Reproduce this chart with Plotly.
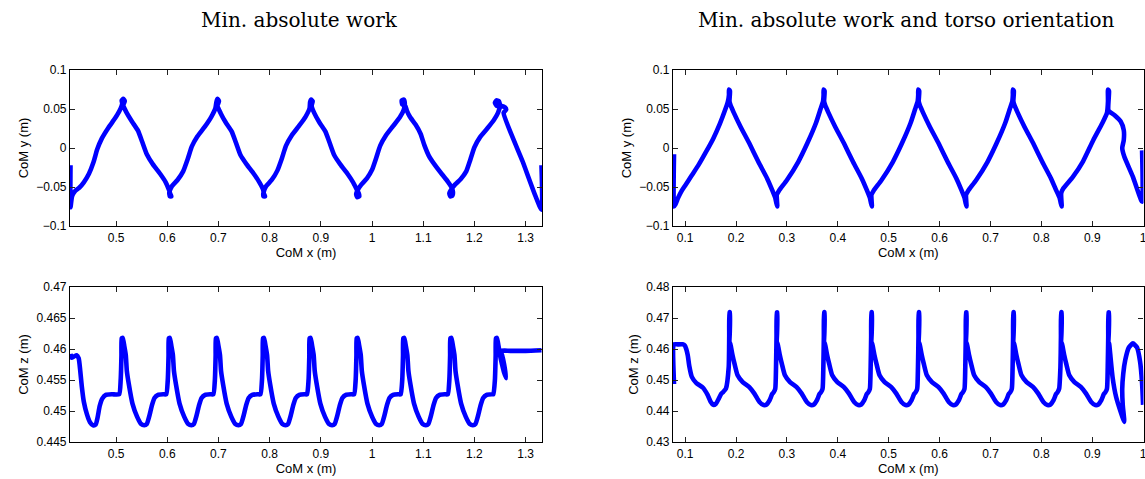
import plotly.graph_objects as go

# ---------------------------------------------------------------- data
# CoM lateral position (y) against forward position (x), min. absolute work
left_xy = [
    (0.411, -0.022), (0.411, -0.076), (0.414, -0.062), (0.420, -0.055), (0.428, -0.051),
    (0.437, -0.044), (0.447, -0.033), (0.456, -0.018), (0.463, -0.002), (0.472, 0.012),
    (0.485, 0.026), (0.498, 0.038), (0.507, 0.048), (0.512, 0.057),
    (0.511, 0.061), (0.514, 0.063), (0.517, 0.060), (0.514, 0.055),
    (0.520, 0.046), (0.531, 0.034), (0.543, 0.022), (0.551, 0.008), (0.560, -0.008),
    (0.572, -0.021), (0.586, -0.033), (0.597, -0.044), (0.603, -0.053),
    (0.606, -0.059), (0.608, -0.062), (0.605, -0.062), (0.604, -0.057),
    (0.609, -0.049), (0.620, -0.041), (0.631, -0.030), (0.640, -0.014), (0.648, 0.002),
    (0.659, 0.015), (0.673, 0.027), (0.686, 0.040), (0.694, 0.051),
    (0.696, 0.059), (0.698, 0.063), (0.701, 0.060), (0.698, 0.054),
    (0.704, 0.045), (0.714, 0.033), (0.726, 0.021), (0.734, 0.007), (0.743, -0.009),
    (0.755, -0.021), (0.769, -0.033), (0.780, -0.044), (0.787, -0.053),
    (0.789, -0.059), (0.791, -0.062), (0.788, -0.062), (0.788, -0.057),
    (0.793, -0.049), (0.804, -0.041), (0.815, -0.029), (0.824, -0.013), (0.832, 0.003),
    (0.843, 0.016), (0.857, 0.028), (0.870, 0.040), (0.878, 0.051),
    (0.879, 0.059), (0.881, 0.062), (0.884, 0.060), (0.882, 0.054),
    (0.887, 0.045), (0.897, 0.033), (0.909, 0.021), (0.917, 0.007), (0.926, -0.009),
    (0.938, -0.021), (0.952, -0.033), (0.963, -0.044), (0.970, -0.053),
    (0.974, -0.058), (0.975, -0.062), (0.971, -0.063), (0.969, -0.059), (0.972, -0.054),
    (0.979, -0.047), (0.990, -0.039), (1.000, -0.028), (1.008, -0.013), (1.016, 0.003),
    (1.027, 0.016), (1.041, 0.028), (1.054, 0.039), (1.062, 0.049),
    (1.064, 0.057), (1.062, 0.062), (1.058, 0.061), (1.059, 0.056), (1.065, 0.054), (1.068, 0.048),
    (1.074, 0.040), (1.085, 0.030), (1.095, 0.018), (1.102, 0.004), (1.111, -0.010),
    (1.123, -0.022), (1.137, -0.034), (1.148, -0.043), (1.155, -0.050),
    (1.158, -0.056), (1.157, -0.061), (1.153, -0.062), (1.151, -0.058), (1.155, -0.053),
    (1.162, -0.047), (1.173, -0.040), (1.184, -0.030), (1.192, -0.015), (1.200, 0.001),
    (1.211, 0.014), (1.225, 0.025), (1.238, 0.036), (1.246, 0.045),
    (1.250, 0.054), (1.248, 0.060), (1.243, 0.061), (1.240, 0.058), (1.244, 0.054),
    (1.252, 0.054), (1.260, 0.052), (1.262, 0.049), (1.257, 0.045),
    (1.294, -0.017), (1.331, -0.079), (1.331, -0.022),
]

# CoM lateral position, min. absolute work and torso orientation
right_xy = [
    (0.078, -0.008), (0.078, -0.075), (0.081, -0.072), (0.086, -0.064), (0.093, -0.055),
    (0.100, -0.048), (0.112, -0.036), (0.126, -0.022), (0.140, -0.006), (0.155, 0.012),
    (0.168, 0.031), (0.178, 0.048), (0.184, 0.060),
    (0.186, 0.068), (0.186, 0.075), (0.188, 0.073), (0.187, 0.060),
    (0.189, 0.055), (0.195, 0.046), (0.209, 0.027), (0.226, 0.006), (0.244, -0.018),
    (0.261, -0.039), (0.271, -0.054), (0.277, -0.064),
    (0.279, -0.070), (0.281, -0.075), (0.280, -0.060),
    (0.284, -0.055), (0.300, -0.041), (0.322, -0.018), (0.340, 0.006), (0.357, 0.032),
    (0.366, 0.050), (0.371, 0.060),
    (0.372, 0.068), (0.372, 0.075), (0.374, 0.073), (0.373, 0.060),
    (0.375, 0.055), (0.381, 0.046), (0.395, 0.027), (0.412, 0.006), (0.430, -0.018),
    (0.447, -0.039), (0.457, -0.054), (0.463, -0.064),
    (0.465, -0.070), (0.467, -0.075), (0.466, -0.060),
    (0.470, -0.055), (0.486, -0.041), (0.508, -0.018), (0.526, 0.006), (0.543, 0.032),
    (0.552, 0.050), (0.557, 0.060),
    (0.558, 0.068), (0.558, 0.075), (0.560, 0.073), (0.559, 0.060),
    (0.561, 0.055), (0.567, 0.046), (0.581, 0.027), (0.598, 0.006), (0.616, -0.018),
    (0.633, -0.039), (0.643, -0.054), (0.649, -0.064),
    (0.651, -0.070), (0.653, -0.075), (0.652, -0.060),
    (0.656, -0.055), (0.672, -0.041), (0.694, -0.018), (0.712, 0.006), (0.729, 0.032),
    (0.738, 0.050), (0.743, 0.060),
    (0.744, 0.068), (0.744, 0.075), (0.746, 0.073), (0.745, 0.060),
    (0.747, 0.055), (0.753, 0.046), (0.767, 0.027), (0.784, 0.006), (0.802, -0.018),
    (0.819, -0.039), (0.829, -0.054), (0.836, -0.064),
    (0.838, -0.070), (0.840, -0.075), (0.839, -0.058),
    (0.843, -0.052), (0.862, -0.037), (0.882, -0.017), (0.902, 0.010), (0.920, 0.032),
    (0.929, 0.045),
    (0.931, 0.060), (0.931, 0.075), (0.933, 0.073), (0.932, 0.048),
    (0.944, 0.042), (0.956, 0.034), (0.962, 0.023), (0.962, 0.010), (0.959, 0.000),
    (0.963, -0.011), (0.980, -0.037), (0.998, -0.069), (0.998, -0.003),
]

# CoM height (z), min. absolute work
left_xz = [
    (0.411, 0.4592), (0.413, 0.4586), (0.418, 0.4588), (0.423, 0.4590), (0.427, 0.4585),
    (0.430, 0.4565), (0.433, 0.4540), (0.437, 0.4515), (0.443, 0.4495), (0.449, 0.4482),
    (0.455, 0.4477), (0.460, 0.4478), (0.464, 0.4490), (0.468, 0.4508), (0.473, 0.4520),
    (0.480, 0.4526), (0.492, 0.4527),
    (0.506, 0.4527), (0.509, 0.4550), (0.5105, 0.4590), (0.511, 0.4617), (0.513, 0.4618),
    (0.516, 0.4605), (0.519, 0.4590), (0.521, 0.4565), (0.525, 0.4543), (0.532, 0.4512),
    (0.541, 0.4491), (0.549, 0.4479), (0.555, 0.4477), (0.560, 0.4479), (0.565, 0.4492),
    (0.570, 0.4509), (0.575, 0.4521), (0.582, 0.4526), (0.592, 0.4527),
    (0.598, 0.4527), (0.601, 0.4550), (0.6025, 0.4590), (0.603, 0.4617), (0.605, 0.4618),
    (0.608, 0.4605), (0.611, 0.4590), (0.613, 0.4565), (0.617, 0.4543), (0.624, 0.4512),
    (0.633, 0.4491), (0.641, 0.4479), (0.647, 0.4477), (0.652, 0.4479), (0.657, 0.4492),
    (0.662, 0.4509), (0.667, 0.4521), (0.674, 0.4526), (0.684, 0.4527),
    (0.690, 0.4527), (0.693, 0.4550), (0.6945, 0.4590), (0.695, 0.4617), (0.697, 0.4618),
    (0.700, 0.4605), (0.703, 0.4590), (0.705, 0.4565), (0.709, 0.4543), (0.716, 0.4512),
    (0.725, 0.4491), (0.733, 0.4479), (0.739, 0.4477), (0.744, 0.4479), (0.749, 0.4492),
    (0.754, 0.4509), (0.759, 0.4521), (0.766, 0.4526), (0.776, 0.4527),
    (0.782, 0.4527), (0.785, 0.4550), (0.7865, 0.4590), (0.787, 0.4617), (0.789, 0.4618),
    (0.792, 0.4605), (0.795, 0.4590), (0.797, 0.4565), (0.801, 0.4543), (0.808, 0.4512),
    (0.817, 0.4491), (0.825, 0.4479), (0.831, 0.4477), (0.836, 0.4479), (0.841, 0.4492),
    (0.846, 0.4509), (0.851, 0.4521), (0.858, 0.4526), (0.868, 0.4527),
    (0.873, 0.4527), (0.876, 0.4550), (0.8775, 0.4590), (0.878, 0.4617), (0.880, 0.4618),
    (0.883, 0.4605), (0.886, 0.4590), (0.888, 0.4565), (0.892, 0.4543), (0.899, 0.4512),
    (0.908, 0.4491), (0.916, 0.4479), (0.922, 0.4477), (0.927, 0.4479), (0.932, 0.4492),
    (0.937, 0.4509), (0.942, 0.4521), (0.949, 0.4526), (0.959, 0.4527),
    (0.965, 0.4527), (0.968, 0.4550), (0.9695, 0.4590), (0.970, 0.4617), (0.972, 0.4618),
    (0.975, 0.4605), (0.978, 0.4590), (0.980, 0.4565), (0.984, 0.4543), (0.991, 0.4512),
    (1.000, 0.4491), (1.008, 0.4479), (1.014, 0.4477), (1.019, 0.4479), (1.024, 0.4492),
    (1.029, 0.4509), (1.034, 0.4521), (1.041, 0.4526), (1.051, 0.4527),
    (1.056, 0.4527), (1.059, 0.4550), (1.0605, 0.4590), (1.061, 0.4617), (1.063, 0.4618),
    (1.066, 0.4605), (1.069, 0.4590), (1.071, 0.4565), (1.075, 0.4543), (1.082, 0.4512),
    (1.091, 0.4491), (1.099, 0.4479), (1.105, 0.4477), (1.110, 0.4479), (1.115, 0.4492),
    (1.120, 0.4509), (1.125, 0.4521), (1.132, 0.4526), (1.142, 0.4527),
    (1.148, 0.4527), (1.151, 0.4550), (1.1525, 0.4590), (1.153, 0.4617), (1.155, 0.4618),
    (1.158, 0.4605), (1.161, 0.4590), (1.163, 0.4565), (1.167, 0.4543), (1.174, 0.4512),
    (1.183, 0.4491), (1.191, 0.4479), (1.197, 0.4477), (1.202, 0.4479), (1.207, 0.4492),
    (1.212, 0.4509), (1.217, 0.4521), (1.224, 0.4526), (1.234, 0.4527),
    (1.237, 0.4527), (1.240, 0.4550), (1.2415, 0.4590), (1.242, 0.4617), (1.244, 0.4618),
    (1.247, 0.4605), (1.250, 0.4590), (1.254, 0.4575), (1.258, 0.4562), (1.262, 0.4553),
    (1.258, 0.4575), (1.254, 0.4590), (1.251, 0.4597),
    (1.270, 0.4597), (1.300, 0.4597), (1.331, 0.4598),
]

# CoM height, min. absolute work and torso orientation
right_xz = [
    (0.078, 0.4487), (0.078, 0.4615), (0.085, 0.4615), (0.095, 0.4615), (0.099, 0.4612),
    (0.102, 0.4600), (0.105, 0.4580), (0.108, 0.4545), (0.113, 0.4510), (0.122, 0.4490),
    (0.135, 0.4475), (0.144, 0.4452), (0.150, 0.4430), (0.155, 0.4420), (0.160, 0.4423),
    (0.166, 0.4440), (0.171, 0.4456), (0.175, 0.4462), (0.180, 0.4472),
    (0.1855, 0.4541), (0.1865, 0.4640), (0.187, 0.4718), (0.188, 0.4718), (0.1875, 0.4650),
    (0.1865, 0.4612), (0.188, 0.4622), (0.190, 0.4606), (0.193, 0.4580), (0.197, 0.4552),
    (0.203, 0.4515), (0.213, 0.4493), (0.226, 0.4477), (0.236, 0.4456), (0.246, 0.4429),
    (0.254, 0.4419), (0.260, 0.4421), (0.266, 0.4435), (0.271, 0.4455), (0.274, 0.4461),
    (0.277, 0.4472),
    (0.2785, 0.4541), (0.2795, 0.4640), (0.280, 0.4718), (0.281, 0.4718), (0.2805, 0.4650),
    (0.2795, 0.4612), (0.281, 0.4622), (0.283, 0.4606), (0.286, 0.4580), (0.290, 0.4552),
    (0.296, 0.4515), (0.306, 0.4493), (0.319, 0.4477), (0.329, 0.4456), (0.339, 0.4429),
    (0.347, 0.4419), (0.353, 0.4421), (0.359, 0.4435), (0.364, 0.4455), (0.367, 0.4461),
    (0.370, 0.4472),
    (0.3715, 0.4541), (0.3725, 0.4640), (0.373, 0.4718), (0.374, 0.4718), (0.3735, 0.4650),
    (0.3725, 0.4612), (0.374, 0.4622), (0.376, 0.4606), (0.379, 0.4580), (0.383, 0.4552),
    (0.389, 0.4515), (0.399, 0.4493), (0.412, 0.4477), (0.422, 0.4456), (0.432, 0.4429),
    (0.440, 0.4419), (0.446, 0.4421), (0.452, 0.4435), (0.457, 0.4455), (0.460, 0.4461),
    (0.463, 0.4472),
    (0.4645, 0.4541), (0.4655, 0.4640), (0.466, 0.4718), (0.467, 0.4718), (0.4665, 0.4650),
    (0.4655, 0.4612), (0.467, 0.4622), (0.469, 0.4606), (0.472, 0.4580), (0.476, 0.4552),
    (0.482, 0.4515), (0.492, 0.4493), (0.505, 0.4477), (0.515, 0.4456), (0.525, 0.4429),
    (0.533, 0.4419), (0.539, 0.4421), (0.545, 0.4435), (0.550, 0.4455), (0.553, 0.4461),
    (0.556, 0.4472),
    (0.5575, 0.4541), (0.5585, 0.4640), (0.559, 0.4718), (0.560, 0.4718), (0.5595, 0.4650),
    (0.5585, 0.4612), (0.560, 0.4622), (0.562, 0.4606), (0.565, 0.4580), (0.569, 0.4552),
    (0.575, 0.4515), (0.585, 0.4493), (0.598, 0.4477), (0.608, 0.4456), (0.618, 0.4429),
    (0.626, 0.4419), (0.632, 0.4421), (0.638, 0.4435), (0.643, 0.4455), (0.646, 0.4461),
    (0.649, 0.4472),
    (0.6505, 0.4541), (0.6515, 0.4640), (0.652, 0.4718), (0.653, 0.4718), (0.6525, 0.4650),
    (0.6515, 0.4612), (0.653, 0.4622), (0.655, 0.4606), (0.658, 0.4580), (0.662, 0.4552),
    (0.668, 0.4515), (0.678, 0.4493), (0.691, 0.4477), (0.701, 0.4456), (0.711, 0.4429),
    (0.719, 0.4419), (0.725, 0.4421), (0.731, 0.4435), (0.736, 0.4455), (0.739, 0.4461),
    (0.742, 0.4472),
    (0.7435, 0.4541), (0.7445, 0.4640), (0.745, 0.4718), (0.746, 0.4718), (0.7455, 0.4650),
    (0.7445, 0.4612), (0.746, 0.4622), (0.748, 0.4606), (0.751, 0.4580), (0.755, 0.4552),
    (0.761, 0.4515), (0.771, 0.4493), (0.784, 0.4477), (0.794, 0.4456), (0.804, 0.4429),
    (0.812, 0.4419), (0.818, 0.4421), (0.824, 0.4435), (0.829, 0.4455), (0.832, 0.4461),
    (0.835, 0.4472),
    (0.8375, 0.4541), (0.8385, 0.4640), (0.839, 0.4718), (0.840, 0.4718), (0.8395, 0.4650),
    (0.8385, 0.4612), (0.840, 0.4622), (0.842, 0.4606), (0.845, 0.4580), (0.849, 0.4552),
    (0.855, 0.4515), (0.865, 0.4493), (0.878, 0.4477), (0.888, 0.4456), (0.898, 0.4429),
    (0.906, 0.4419), (0.912, 0.4421), (0.918, 0.4435), (0.923, 0.4455), (0.926, 0.4461),
    (0.929, 0.4472),
    (0.9305, 0.4541), (0.9315, 0.4640), (0.932, 0.4718), (0.933, 0.4718), (0.9325, 0.4650),
    (0.9315, 0.4612), (0.933, 0.4620), (0.935, 0.4590), (0.940, 0.4509), (0.947, 0.4445),
    (0.957, 0.4392), (0.963, 0.4365),
    (0.960, 0.4420), (0.959, 0.4470), (0.961, 0.4520), (0.965, 0.4565), (0.972, 0.4605),
    (0.980, 0.4618), (0.988, 0.4605), (0.994, 0.4560), (0.998, 0.4490), (1.000, 0.4420),
]

# axis ranges and tick labels
left_x_range = [0.41, 1.332]
right_x_range = [0.076, 1.0008]
left_x_ticks = [0.5, 0.6, 0.7, 0.8, 0.9, 1.0, 1.1, 1.2, 1.3]
left_x_text = ["0.5", "0.6", "0.7", "0.8", "0.9", "1", "1.1", "1.2", "1.3"]
right_x_ticks = [0.1, 0.2, 0.3, 0.4, 0.5, 0.6, 0.7, 0.8, 0.9, 1.0]
right_x_text = ["0.1", "0.2", "0.3", "0.4", "0.5", "0.6", "0.7", "0.8", "0.9", "1"]
y_ticks = [-0.1, -0.05, 0.0, 0.05, 0.1]
y_text = ["\u22120.1", "\u22120.05", "0", "0.05", "0.1"]
left_z_ticks = [0.445, 0.45, 0.455, 0.46, 0.465, 0.47]
left_z_text = ["0.445", "0.45", "0.455", "0.46", "0.465", "0.47"]
right_z_ticks = [0.43, 0.44, 0.45, 0.46, 0.47, 0.48]
right_z_text = ["0.43", "0.44", "0.45", "0.46", "0.47", "0.48"]
titles = ["Min. absolute work", "Min. absolute work and torso orientation"]

# ---------------------------------------------------------------- layout
W, H = 1145, 479


def px_x(p):
    return p / W


def px_y(p):
    return 1 - p / H


left_dom = [px_x(70), px_x(542)]
right_dom = [px_x(673), px_x(1143.5)]
top_dom = [px_y(226), px_y(70)]
bot_dom = [px_y(442), px_y(287)]

LINE = dict(color="#0000ff", width=4.6, shape="spline", smoothing=0.5)

fig = go.Figure()
panels = [
    (left_xy, "x", "y"),
    (right_xy, "x2", "y2"),
    (left_xz, "x3", "y3"),
    (right_xz, "x4", "y4"),
]
for pts, xa, ya in panels:
    fig.add_trace(go.Scatter(
        x=[p[0] for p in pts], y=[p[1] for p in pts],
        mode="lines", line=LINE, xaxis=xa, yaxis=ya,
        showlegend=False, hoverinfo="skip",
    ))

TICKFONT = dict(family="Liberation Sans, Arial, sans-serif", size=12, color="black")
TITLEFONT = dict(family="Liberation Sans, Arial, sans-serif", size=13, color="black")


def axis(dom, anchor, rng, vals, text, title):
    return dict(
        domain=dom, anchor=anchor, range=rng,
        tickmode="array", tickvals=vals, ticktext=text,
        ticks="inside", ticklen=5, tickwidth=1, tickcolor="#222",
        showline=True, linecolor="black", linewidth=1.2, mirror="ticks",
        showgrid=False, zeroline=False, tickfont=TICKFONT,
        ticklabeloverflow="allow",
        title=dict(text=title, font=TITLEFONT, standoff=4),
        automargin=False,
    )


fig.update_layout(
    width=W, height=H,
    margin=dict(l=0, r=0, t=0, b=0),
    paper_bgcolor="white", plot_bgcolor="white",
    xaxis=axis(left_dom, "y", left_x_range, left_x_ticks, left_x_text, "CoM x (m)"),
    yaxis=axis(top_dom, "x", [-0.1, 0.1], y_ticks, y_text, "CoM y (m)"),
    xaxis2=axis(right_dom, "y2", right_x_range, right_x_ticks, right_x_text, "CoM x (m)"),
    yaxis2=axis(top_dom, "x2", [-0.1, 0.1], y_ticks, y_text, "CoM y (m)"),
    xaxis3=axis(left_dom, "y3", left_x_range, left_x_ticks, left_x_text, "CoM x (m)"),
    yaxis3=axis(bot_dom, "x3", [0.445, 0.47], left_z_ticks, left_z_text, "CoM z (m)"),
    xaxis4=axis(right_dom, "y4", right_x_range, right_x_ticks, right_x_text, "CoM x (m)"),
    yaxis4=axis(bot_dom, "x4", [0.43, 0.48], right_z_ticks, right_z_text, "CoM z (m)"),
)

for text, cx in zip(titles, [299, 906]):
    fig.add_annotation(
        text=text, xref="paper", yref="paper", x=px_x(cx), y=px_y(20),
        xanchor="center", yanchor="middle", showarrow=False,
        font=dict(family="DejaVu Serif, serif", size=20, color="black"),
    )

fig.write_html("out.html")
